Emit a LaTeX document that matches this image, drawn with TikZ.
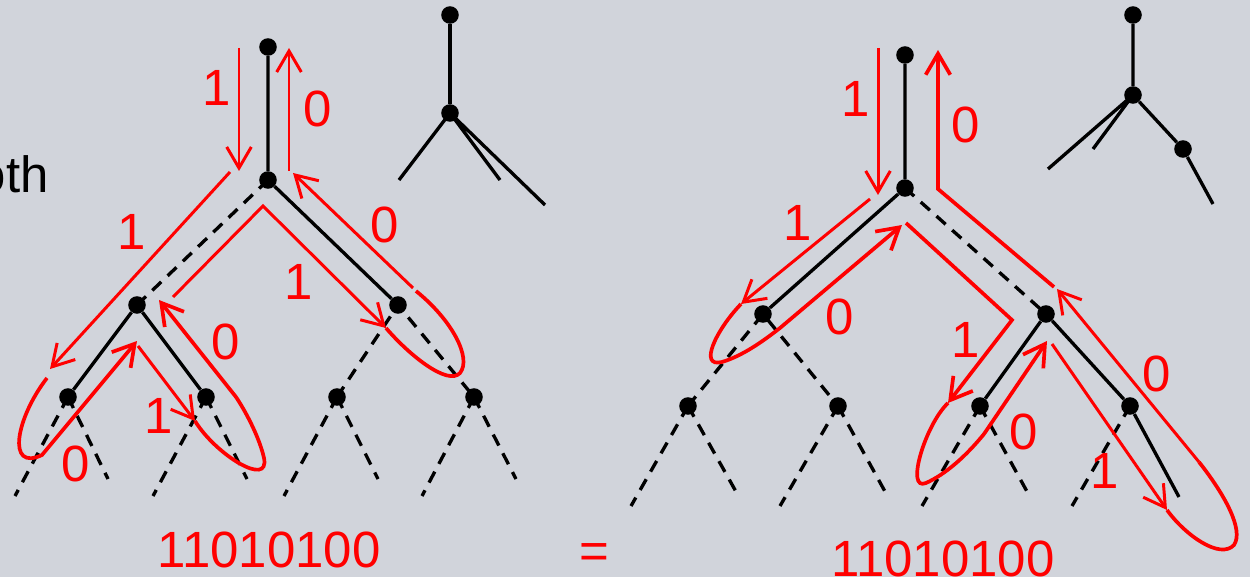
\documentclass[tikz,border=0pt]{standalone}
\usepackage{fontspec}
\setmainfont{Liberation Sans}
\usetikzlibrary{arrows.meta}
\definecolor{bg}{RGB}{209,212,219}
\tikzset{
 dot/.style={circle,fill=black,inner sep=0pt,minimum size=10pt},
 edge/.style={line width=1.9pt},
 dashedge/.style={line width=1.9pt,dash pattern=on 7pt off 5pt},
 walk/.style={red,line width=1.7pt},
 loop/.style={red,line width=2.1pt},
 bit/.style={red,font=\fontsize{29}{30}\selectfont},
}
\begin{document}
\begin{tikzpicture}[x=0.02cm,y=-0.02cm,>={Straight Barb[length=12pt,width=14pt]}]
 \fill[bg] (0,0) rectangle (1250,577);
 \clip (0,0) rectangle (1250,577);
 \node[anchor=base east,font=\fontsize{29}{30}\selectfont] (word) at (55,193) {oth};
 % left tree
 \node[dot] (ltop) at (268,47) {};
 \node[dot] (lroot) at (268,180) {};
 \node[dot] (ll) at (137,305) {};
 \node[dot] (lr) at (398,305) {};
 \node[dot] (lll) at (68,397) {};
 \node[dot] (llr) at (206,397) {};
 \node[dot] (lrl) at (337,397) {};
 \node[dot] (lrr) at (474,397) {};
 \foreach \n/\a/\b in {lll/15/108,llr/153/247,lrl/284/378,lrr/422/516}{
  \coordinate (\n-a) at (\a,496);
  \coordinate (\n-b) at (\b,479);
  \draw[dashedge] (\n.center) -- (\n-a);
  \draw[dashedge] (\n.center) -- (\n-b);
 }
 \draw[edge] (ltop) -- (lroot) -- (lr);
 \draw[dashedge] (lroot.center) -- (ll.center);
 \draw[edge] (lll) -- (ll) -- (llr);
 \draw[dashedge] (lrl.center) -- (lr.center) -- (lrr.center);
 % left small tree
 \node[dot] (lsa) at (450,15) {};
 \node[dot] (lsb) at (450,113) {};
 \coordinate (lsc) at (399,180);
 \coordinate (lsd) at (500,180);
 \coordinate (lse) at (545,205);
 \draw[edge] (lsa) -- (lsb);
 \draw[edge] (lsb.center) -- (lsc) (lsb.center) -- (lsd) (lsb.center) -- (lse);
 % left walk
 \draw[walk,->] (239,48) -- (239,171);
 \draw[walk,->] (289,171) -- (289,48);
 \draw[walk,->] (230,172) -- (50,369);
 \draw[loop,->] (47,378) .. controls (16,418) and (6,472) .. (42,455) -- (137,341);
 \draw[walk,->] (138,346) -- (195,421);
 \draw[loop,->] (195,421) .. controls (216,455) and (270,488) .. (264,458) .. controls (260,440) and (248,415) .. (236,397) -- (159,300);
 \draw[walk,->] (173,297) -- (263,206) -- (386,328);
 \draw[loop] (386,328) .. controls (410,356) and (448,386) .. (460,373) .. controls (472,358) and (452,320) .. (416,291);
 \draw[walk,->] (413,288) -- (293,173);
 \node[bit] (lb1) at (217,88) {1};
 \node[bit] (lb2) at (318,109) {0};
 \node[bit] (lb3) at (132,232) {1};
 \node[bit] (lb4) at (76,464) {0};
 \node[bit] (lb5) at (159,416) {1};
 \node[bit] (lb6) at (226,342) {0};
 \node[bit] (lb7) at (299,282) {1};
 \node[bit] (lb8) at (385,225) {0};
 \node[bit,anchor=base] (lcode) at (269,567) {11010100};
 \node[bit] (eq) at (594,556) {=};
 % right tree
 \node[dot] (rtop) at (905,55) {};
 \node[dot] (rroot) at (905,188) {};
 \node[dot] (rl) at (763,314) {};
 \node[dot] (rr) at (1046,314) {};
 \node[dot] (rll) at (688,406) {};
 \node[dot] (rlr) at (838,406) {};
 \node[dot] (rrl) at (980,406) {};
 \node[dot] (rrr) at (1130,406) {};
 \foreach \n/\a/\b in {rll/631/739,rlr/780/888,rrl/922/1030}{
  \coordinate (\n-a) at (\a,506);
  \coordinate (\n-b) at (\b,497);
  \draw[dashedge] (\n.center) -- (\n-a);
  \draw[dashedge] (\n.center) -- (\n-b);
 }
 \coordinate (rrr-a) at (1072,506);
 \coordinate (rrr-b) at (1179,497);
 \draw[dashedge] (rrr.center) -- (rrr-a);
 \draw[edge] (rrr) -- (rrr-b);
 \draw[edge] (rtop) -- (rroot) -- (rl);
 \draw[dashedge] (rroot.center) -- (rr.center);
 \draw[edge] (rrl) -- (rr) -- (rrr);
 \draw[dashedge] (rll.center) -- (rl.center) -- (rlr.center);
 % right small tree
 \node[dot] (rsa) at (1133,15) {};
 \node[dot] (rsb) at (1133,95) {};
 \node[dot] (rsc) at (1183,149) {};
 \coordinate (rsd) at (1048,169);
 \coordinate (rse) at (1093,149);
 \coordinate (rsf) at (1213,204);
 \draw[edge] (rsa) -- (rsb) -- (rsc) -- (rsf);
 \draw[edge] (rsb.center) -- (rsd) (rsb.center) -- (rse);
 % right walk
 \draw[walk,->] (878,48) -- (878,195);
 \draw[loop,->] (1054,287) -- (938,189) -- (938,50);
 \draw[walk,->] (870,199) -- (741,304);
 \draw[loop,->] (741,304) .. controls (716,330) and (698,368) .. (722,362) .. controls (742,356) and (762,342) .. (780,328) -- (902,225);
 \draw[loop,->] (906,223) -- (1012,320) -- (948,403);
 \draw[loop,->] (948,403) .. controls (925,425) and (905,492) .. (926,483) .. controls (946,474) and (966,456) .. (984,434) -- (1047,341);
 \draw[walk,->] (1052,344) -- (1167,510);
 \draw[loop] (1167,510) .. controls (1185,535) and (1220,560) .. (1234,545) .. controls (1244,530) and (1225,495) .. (1199,462);
 \draw[walk,->] (1199,462) -- (1057,289);
 \node[bit] (rb1) at (856,99) {1};
 \node[bit] (rb2) at (966,125) {0};
 \node[bit] (rb3) at (798,223) {1};
 \node[bit] (rb4) at (840,317) {0};
 \node[bit] (rb5) at (966,340) {1};
 \node[bit] (rb6) at (1024,432) {0};
 \node[bit] (rb7) at (1105,471) {1};
 \node[bit] (rb8) at (1157,374) {0};
 \node[bit,anchor=base] (rcode) at (943,576) {11010100};
\end{tikzpicture}
\end{document}
